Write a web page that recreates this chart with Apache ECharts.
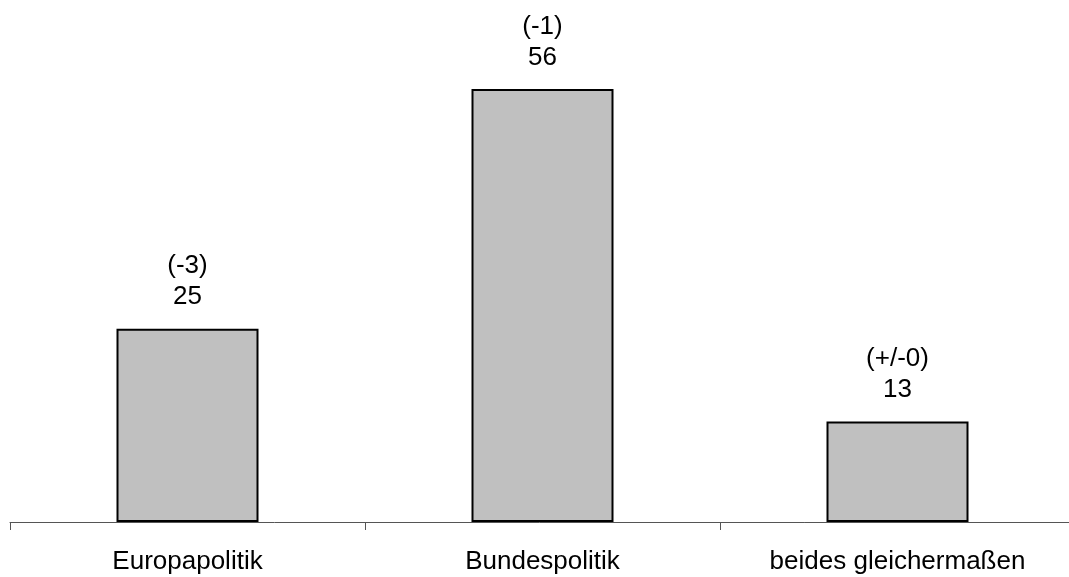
<!DOCTYPE html>
<html><head><meta charset="utf-8">
<script src="https://cdn.jsdelivr.net/npm/echarts@6/dist/echarts.min.js"></script>
<style>html,body{margin:0;padding:0;background:#fff}#c{width:1069px;height:577px}</style>
</head><body><div id="c"></div>
<script>
const categories = ['Europapolitik', 'Bundespolitik', 'beides gleichermaßen'];
const values = [25, 56, 13];
const changes = ['(-3)', '(-1)', '(+/-0)'];

const chart = echarts.init(document.getElementById('c'));
chart.setOption({
  animation: false,
  grid: { left: 10, width: 1065, top: 58, bottom: 55, containLabel: false, outerBoundsMode: 'none' },
  xAxis: {
    type: 'category', data: categories,
    axisLine: { lineStyle: { color: '#555', width: 1 } },
    axisTick: { show: true, length: 8, lineStyle: { color: '#555' } },
    axisLabel: { color: '#000', fontFamily: 'Liberation Sans, Arial, sans-serif', fontSize: 26, margin: 27 }
  },
  yAxis: { type: 'value', min: 0, max: 60, show: false, splitLine: { show: false } },
  series: [{
    type: 'bar', data: values, barWidth: 142,
    itemStyle: { color: '#c0c0c0', borderColor: '#000', borderWidth: 2 },
    label: {
      show: true, position: 'top', distance: 16, color: '#000',
      fontFamily: 'Liberation Sans, Arial, sans-serif', fontSize: 26, lineHeight: 31,
      formatter: p => changes[p.dataIndex] + '\n' + p.value
    }
  }]
});
</script></body></html>
